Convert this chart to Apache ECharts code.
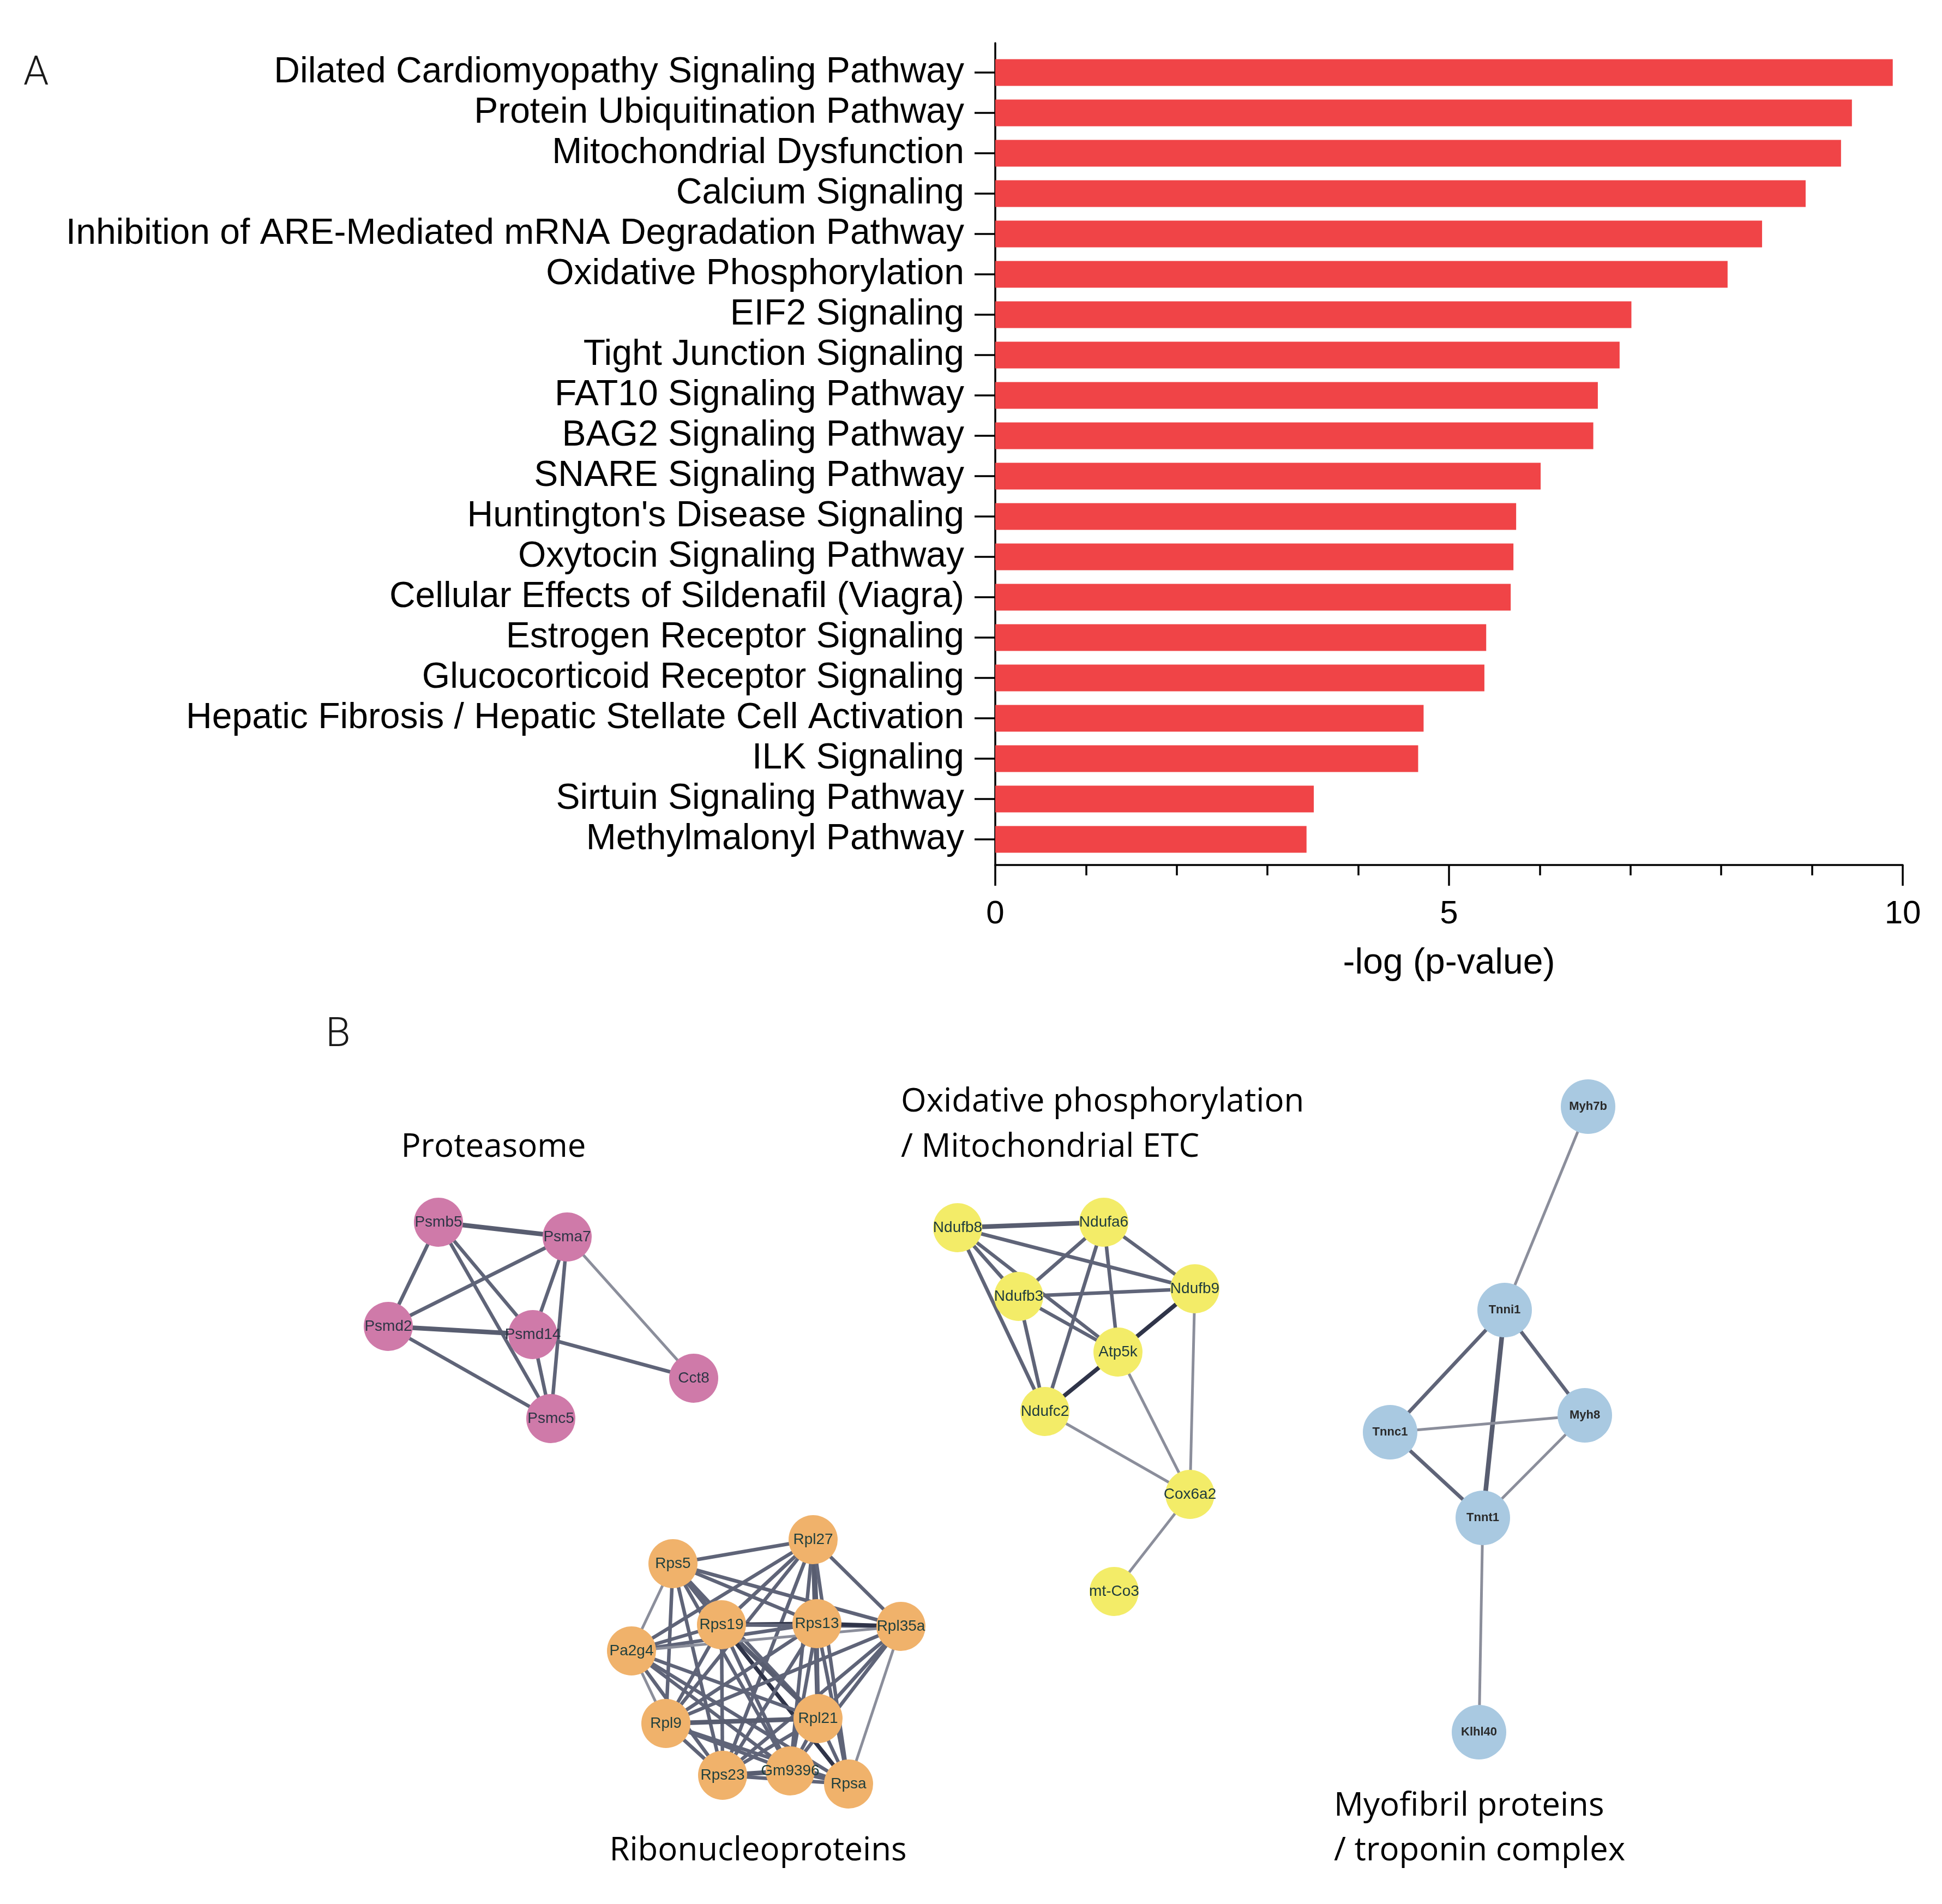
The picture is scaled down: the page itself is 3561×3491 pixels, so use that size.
<!DOCTYPE html>
<html>
<head>
<meta charset="utf-8">
<script src="https://cdn.jsdelivr.net/npm/echarts@6/dist/echarts.min.js"></script>
<style>
html, body { margin: 0; padding: 0; background: #ffffff; }
#chart { width: 3561px; height: 3491px; }
</style>
</head>
<body>
<div id="chart"></div>
<script>
// ---------------- Panel A data ----------------
const categories = [
  'Dilated Cardiomyopathy Signaling Pathway',
  'Protein Ubiquitination Pathway',
  'Mitochondrial Dysfunction',
  'Calcium Signaling',
  'Inhibition of ARE-Mediated mRNA Degradation Pathway',
  'Oxidative Phosphorylation',
  'EIF2 Signaling',
  'Tight Junction Signaling',
  'FAT10 Signaling Pathway',
  'BAG2 Signaling Pathway',
  'SNARE Signaling Pathway',
  "Huntington's Disease Signaling",
  'Oxytocin Signaling Pathway',
  'Cellular Effects of Sildenafil (Viagra)',
  'Estrogen Receptor Signaling',
  'Glucocorticoid Receptor Signaling',
  'Hepatic Fibrosis / Hepatic Stellate Cell Activation',
  'ILK Signaling',
  'Sirtuin Signaling Pathway',
  'Methylmalonyl Pathway'
];
const negLogP = [9.89, 9.44, 9.32, 8.93, 8.45, 8.07, 7.01, 6.88, 6.64, 6.59,
                 6.01, 5.74, 5.71, 5.68, 5.41, 5.39, 4.72, 4.66, 3.51, 3.43];
const xTickValues = [0, 5, 10];
const xAxisTitle = '-log (p-value)';

// ---------------- Panel B data (network layout coordinates) ----------------
const proteasomeNodes = [
  ['Psmb5', 804, 2241], ['Psma7', 1040, 2268], ['Psmd2', 712, 2432],
  ['Psmd14', 977, 2447], ['Cct8', 1272, 2527], ['Psmc5', 1010, 2601]
];
const proteasomeEdges = [
  ['Psmb5', 'Psma7', 3], ['Psmb5', 'Psmd2', 2], ['Psmb5', 'Psmd14', 2], ['Psmb5', 'Psmc5', 2],
  ['Psma7', 'Psmd2', 2], ['Psma7', 'Psmd14', 2], ['Psma7', 'Psmc5', 2], ['Psma7', 'Cct8', 1],
  ['Psmd2', 'Psmd14', 3], ['Psmd2', 'Psmc5', 2], ['Psmd14', 'Cct8', 2], ['Psmd14', 'Psmc5', 2]
];

const oxphosNodes = [
  ['Ndufb8', 1756, 2251], ['Ndufa6', 2024, 2241], ['Ndufb3', 1868, 2377],
  ['Ndufb9', 2191, 2363], ['Atp5k', 2050, 2479], ['Ndufc2', 1916, 2588],
  ['Cox6a2', 2182, 2740], ['mt-Co3', 2043, 2918]
];
const oxphosEdges = [
  ['Ndufb8', 'Ndufa6', 3], ['Ndufb8', 'Ndufb9', 2], ['Ndufb8', 'Ndufb3', 2], ['Ndufb8', 'Atp5k', 2],
  ['Ndufb8', 'Ndufc2', 2], ['Ndufa6', 'Ndufb3', 2], ['Ndufa6', 'Ndufc2', 2], ['Ndufa6', 'Atp5k', 2],
  ['Ndufa6', 'Ndufb9', 2], ['Ndufb3', 'Ndufb9', 2], ['Ndufb3', 'Atp5k', 2], ['Ndufb3', 'Ndufc2', 2],
  ['Ndufb9', 'Atp5k', 4], ['Atp5k', 'Ndufc2', 4], ['Ndufb9', 'Cox6a2', 1], ['Atp5k', 'Cox6a2', 1],
  ['Ndufc2', 'Cox6a2', 1], ['Cox6a2', 'mt-Co3', 1]
];

const riboNodes = [
  ['Rps5', 1234, 2867], ['Rpl27', 1491, 2823], ['Rps19', 1323, 2979], ['Rps13', 1498, 2977],
  ['Rpl35a', 1652, 2982], ['Pa2g4', 1158, 3027], ['Rpl9', 1221, 3160], ['Rpl21', 1500, 3151],
  ['Rps23', 1325, 3255], ['Gm9396', 1449, 3247], ['Rpsa', 1556, 3271]
];
const riboEdges = [
  ['Rps5', 'Rpl27', 2], ['Rps5', 'Rps19', 3], ['Rps5', 'Rps13', 2], ['Rps5', 'Rpl35a', 2], ['Rps5', 'Pa2g4', 1],
  ['Rps5', 'Rpl9', 2], ['Rps5', 'Rpl21', 2], ['Rps5', 'Rps23', 2], ['Rps5', 'Gm9396', 2], ['Rps5', 'Rpsa', 2],
  ['Rpl27', 'Rps19', 2], ['Rpl27', 'Rps13', 3], ['Rpl27', 'Rpl35a', 2], ['Rpl27', 'Pa2g4', 2], ['Rpl27', 'Rpl9', 2],
  ['Rpl27', 'Rpl21', 3], ['Rpl27', 'Rps23', 2], ['Rpl27', 'Gm9396', 2], ['Rpl27', 'Rpsa', 2],
  ['Rps19', 'Rps13', 4], ['Rps19', 'Rpl35a', 2], ['Rps19', 'Pa2g4', 2], ['Rps19', 'Rpl9', 2], ['Rps19', 'Rpl21', 3],
  ['Rps19', 'Rps23', 2], ['Rps19', 'Gm9396', 2], ['Rps19', 'Rpsa', 4],
  ['Rps13', 'Rpl35a', 4], ['Rps13', 'Pa2g4', 2], ['Rps13', 'Rpl9', 2], ['Rps13', 'Rpl21', 2], ['Rps13', 'Rps23', 2],
  ['Rps13', 'Gm9396', 2], ['Rps13', 'Rpsa', 2],
  ['Rpl35a', 'Pa2g4', 1], ['Rpl35a', 'Rpl9', 2], ['Rpl35a', 'Rpl21', 2], ['Rpl35a', 'Rps23', 2], ['Rpl35a', 'Gm9396', 2],
  ['Rpl35a', 'Rpsa', 1],
  ['Pa2g4', 'Rpl9', 1], ['Pa2g4', 'Rpl21', 2], ['Pa2g4', 'Rps23', 2], ['Pa2g4', 'Gm9396', 2], ['Pa2g4', 'Rpsa', 2],
  ['Rpl9', 'Rpl21', 3], ['Rpl9', 'Rps23', 2], ['Rpl9', 'Gm9396', 2], ['Rpl9', 'Rpsa', 2],
  ['Rpl21', 'Rps23', 2], ['Rpl21', 'Gm9396', 2], ['Rpl21', 'Rpsa', 2],
  ['Rps23', 'Gm9396', 3], ['Rps23', 'Rpsa', 2],
  ['Gm9396', 'Rpsa', 2]
];

const myofibrilNodes = [
  ['Myh7b', 2912, 2029], ['Tnni1', 2759, 2402], ['Myh8', 2906, 2595],
  ['Tnnc1', 2549, 2626], ['Tnnt1', 2719, 2783], ['Klhl40', 2712, 3176]
];
const myofibrilEdges = [
  ['Myh7b', 'Tnni1', 1], ['Tnni1', 'Tnnc1', 2], ['Tnni1', 'Myh8', 2], ['Tnni1', 'Tnnt1', 3],
  ['Tnnc1', 'Myh8', 1], ['Tnnc1', 'Tnnt1', 2], ['Myh8', 'Tnnt1', 1], ['Tnnt1', 'Klhl40', 1]
];

// ---------------- helpers (styling) ----------------
const edgeStyleByWeight = {
  1: { width: 5, color: '#8b8e9b' },
  2: { width: 6.5, color: '#5f6478' },
  3: { width: 8.5, color: '#585d70' },
  4: { width: 7.5, color: '#2f3449' }
};
function buildNodes(list) {
  return list.map(n => ({ name: n[0], value: [n[1], n[2]] }));
}
function buildLinks(list) {
  return list.map(e => ({ source: e[0], target: e[1], lineStyle: Object.assign({ opacity: 1, curveness: 0 }, edgeStyleByWeight[e[2]]) }));
}
function graphSeries(nodes, edges, color, size, labelStyle) {
  return {
    type: 'graph',
    layout: 'none',
    coordinateSystem: 'cartesian2d',
    xAxisIndex: 2,
    yAxisIndex: 2,
    symbol: 'circle',
    symbolSize: size,
    itemStyle: { color: color, opacity: 1 },
    label: Object.assign({ show: true, position: 'inside', formatter: '{b}' }, labelStyle),
    lineStyle: { opacity: 1 },
    emphasis: { disabled: true },
    silent: true,
    data: buildNodes(nodes),
    links: buildLinks(edges),
    z: 5
  };
}

const sansA = 'Liberation Sans, Arial, Helvetica, sans-serif';
const sansB = 'Open Sans, Noto Sans, sans-serif';
const nodeLabel = { fontSize: 28, fontFamily: sansA };
const groupTitle = { fontSize: 60, fontFamily: sansB, fill: '#000', verticalAlign: 'middle' };

const chart = echarts.init(document.getElementById('chart'), null, { renderer: 'canvas' });
chart.setOption({
  animation: false,
  backgroundColor: '#ffffff',
  grid: [
    { left: 1825, right: 72, top: 96, height: 1480, outerBoundsMode: 'none', containLabel: false },
    { left: 1825, right: 72, top: 79, bottom: 1905, outerBoundsMode: 'none', containLabel: false },
    { left: 0, top: 0, width: 3561, height: 3491, outerBoundsMode: 'none', containLabel: false }
  ],
  xAxis: [
    { gridIndex: 0, type: 'value', min: 0, max: 10, show: false },
    {
      gridIndex: 1, type: 'value', min: 0, max: 10, interval: 5,
      axisLine: { show: true, onZero: false, lineStyle: { color: '#000', width: 3.5 } },
      axisTick: { show: true, inside: false, length: 38, lineStyle: { color: '#000', width: 3.5 } },
      minorTick: { show: true, splitNumber: 5, length: 19, lineStyle: { color: '#000', width: 3.5 } },
      splitLine: { show: false },
      minorSplitLine: { show: false },
      axisLabel: {
        show: true, margin: 60, fontSize: 60, color: '#000', fontFamily: sansA,
        formatter: v => (xTickValues.indexOf(v) >= 0 ? String(v) : '')
      },
      name: xAxisTitle, nameLocation: 'middle', nameGap: 148,
      nameTextStyle: { fontSize: 66, color: '#000', fontFamily: sansA }
    },
    { gridIndex: 2, type: 'value', min: 0, max: 3561, show: false }
  ],
  yAxis: [
    {
      gridIndex: 0, type: 'category', inverse: true, data: categories,
      axisLine: { show: false },
      axisTick: { show: true, alignWithLabel: true, length: 38, lineStyle: { color: '#000', width: 3.5 } },
      axisLabel: { show: true, interval: 0, margin: 57, fontSize: 66, color: '#000', fontFamily: sansA },
      splitLine: { show: false }
    },
    {
      gridIndex: 1, type: 'value', min: 0, max: 1,
      axisLine: { show: true, onZero: false, lineStyle: { color: '#000', width: 3.5 } },
      axisTick: { show: false }, axisLabel: { show: false }, splitLine: { show: false }
    },
    { gridIndex: 2, type: 'value', min: 0, max: 3491, inverse: true, show: false }
  ],
  series: [
    {
      type: 'bar', xAxisIndex: 0, yAxisIndex: 0,
      data: negLogP, barWidth: 49,
      itemStyle: { color: '#f04447' },
      silent: true, z: 2
    },
    graphSeries(proteasomeNodes, proteasomeEdges, '#cf7aa9', 90, Object.assign({ color: '#2d3545' }, nodeLabel)),
    graphSeries(oxphosNodes, oxphosEdges, '#f3ec68', 90, Object.assign({ color: '#1e3b3e' }, nodeLabel)),
    graphSeries(riboNodes, riboEdges, '#f0b26b', 90, Object.assign({ color: '#1f3f3d' }, nodeLabel)),
    graphSeries(myofibrilNodes, myofibrilEdges, '#a9c9e1', 100, { color: '#2a2a2a', fontSize: 22, fontWeight: 'bold', fontFamily: sansA })
  ],
  graphic: [
    { type: 'text', x: 66, y: 136, style: { text: 'A', fontSize: 74, fontFamily: 'Roboto, Liberation Sans, sans-serif', fontWeight: 300, fill: '#1a1a1a', align: 'center', verticalAlign: 'middle' } },
    { type: 'text', x: 620, y: 1899, style: { text: 'B', fontSize: 74, fontFamily: 'Roboto, Liberation Sans, sans-serif', fontWeight: 300, fill: '#1a1a1a', align: 'center', verticalAlign: 'middle' } },
    { type: 'text', x: 905, y: 2104, style: Object.assign({ text: 'Proteasome', align: 'center' }, groupTitle) },
    { type: 'text', x: 1652, y: 2021, style: Object.assign({ text: 'Oxidative phosphorylation', align: 'left' }, groupTitle) },
    { type: 'text', x: 1652, y: 2104, style: Object.assign({ text: '/ Mitochondrial ETC', align: 'left' }, groupTitle) },
    { type: 'text', x: 1390, y: 3394, style: Object.assign({ text: 'Ribonucleoproteins', align: 'center' }, groupTitle) },
    { type: 'text', x: 2446, y: 3312, style: Object.assign({ text: 'Myofibril proteins', align: 'left' }, groupTitle) },
    { type: 'text', x: 2446, y: 3394, style: Object.assign({ text: '/ troponin complex', align: 'left' }, groupTitle) }
  ]
});
</script>
</body>
</html>
